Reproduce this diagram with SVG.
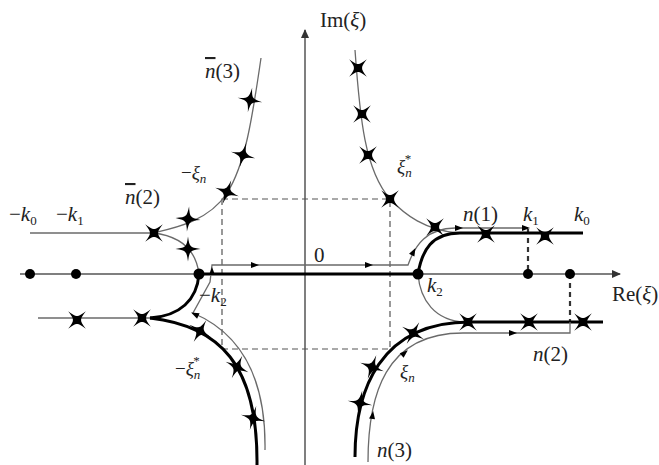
<svg xmlns="http://www.w3.org/2000/svg" width="659" height="465" viewBox="0 0 659 465">
<style>
.ax{stroke:#555;stroke-width:1.5;fill:none}
.thin{stroke:#6a6a6a;stroke-width:1.3;fill:none}
.thick{stroke:#000;stroke-width:3;fill:none}
.dash{stroke:#555;stroke-width:1.2;stroke-dasharray:6 4;fill:none}
.dash2{stroke:#333;stroke-width:2.2;stroke-dasharray:5 4;fill:none}
text{font-family:"Liberation Serif","Times New Roman",serif;font-size:21px;fill:#222}
.i{font-style:italic}
.sub{font-size:13px}
.sm{font-size:19px}
.ol{text-decoration:overline}
</style>
<defs>
<path id="star" d="M0,-12.5 Q1,-4 2.9,-2.9 Q4,-1 12.5,0 Q4,1 2.9,2.9 Q1,4 0,12.5 Q-1,4 -2.9,2.9 Q-4,1 -12.5,0 Q-4,-1 -2.9,-2.9 Q-1,-4 0,-12.5Z" fill="#000"/>
<path id="ah" d="M1,0 L-7,-3 L-7,3 Z" fill="#000"/>
<marker id="axarr" markerWidth="10" markerHeight="10" refX="8" refY="5" orient="auto" markerUnits="userSpaceOnUse"><path d="M0,1 L9,5 L0,9 Z" fill="#333"/></marker>
</defs>

<g id="axes">
<line class="ax" x1="20" y1="274" x2="620" y2="274" marker-end="url(#axarr)"/>
<line class="ax" x1="305" y1="465" x2="305" y2="30" marker-end="url(#axarr)"/>
</g>

<g id="dashed">
<rect class="dash" x="222" y="199" width="168" height="150"/>
<line class="dash2" x1="528" y1="229" x2="528" y2="274"/>
<line class="dash2" x1="570" y1="274" x2="570" y2="322"/>
</g>

<g id="connectors">
<path class="thin" d="M30,233 L153,233"/>
<path class="thin" d="M38,318 L155,318"/>
<path class="thin" d="M261,58 C252,120 245,165 227,193 S175,228 153,233"/>
<path class="thin" d="M153,233 C180,236 196,250 199,274"/>
<path class="thin" d="M355,50 C360,120 365,170 390,199 C405,215 425,230 458,233"/>
<path class="thin" d="M418,274 C420,300 435,321 465,322"/>
<path class="thick" d="M199,274 L418,274"/>
<path class="thick" d="M418,274 C422,250 432,233 460,233 L583,233"/>
<path class="thick" d="M199,274 C197,300 180,316 150,318"/>
<path class="thick" d="M150,318 C220,326 258,365 257,465"/>
<path class="thick" d="M355,457 C355,390 380,322 470,322 L603,322"/>
<path class="thin" d="M265,450 C266,385 245,335 193,313 L210,282 L212,265 L408,265 C415,245 427,228 455,228 L528,228"/>
<path class="thin" d="M368,462 C368,395 385,333 463,333 L570,333 L570,322"/>
</g>

<g id="arrows">
<use href="#ah" transform="translate(258,265)"/>
<use href="#ah" transform="translate(372,265)"/>
<use href="#ah" transform="translate(415,249) rotate(-62)"/>
<use href="#ah" transform="translate(462,228)"/>
<use href="#ah" transform="translate(529,228)"/>
<use href="#ah" transform="translate(212,268) rotate(-90)"/>
<use href="#ah" transform="translate(192,313) rotate(205)"/>
<use href="#ah" transform="translate(373,412) rotate(-82)"/>
<use href="#ah" transform="translate(407,351) rotate(-40)"/>
<use href="#ah" transform="translate(516,333)"/>
</g>

<g id="points">
<circle cx="30" cy="274" r="5"/>
<circle cx="76" cy="274" r="5"/>
<circle cx="199" cy="274" r="5.5"/>
<circle cx="418" cy="274" r="5.5"/>
<circle cx="528" cy="274" r="5"/>
<circle cx="570" cy="274" r="5"/>
</g>

<g id="stars">
<use href="#star" transform="translate(250,100) rotate(10)"/>
<use href="#star" transform="translate(243,155) rotate(15)"/>
<use href="#star" transform="translate(227,192) rotate(20)"/>
<use href="#star" transform="translate(188,219) rotate(5)"/>
<use href="#star" transform="translate(188,249)"/>
<use href="#star" transform="translate(154,233) rotate(45)"/>
<use href="#star" transform="translate(358,68) rotate(45)"/>
<use href="#star" transform="translate(362,114) rotate(45)"/>
<use href="#star" transform="translate(368,155) rotate(45)"/>
<use href="#star" transform="translate(390,199) rotate(45)"/>
<use href="#star" transform="translate(435,227) rotate(45)"/>
<use href="#star" transform="translate(486,234) rotate(45)"/>
<use href="#star" transform="translate(545,236) rotate(45)"/>
<use href="#star" transform="translate(77,320) rotate(45)"/>
<use href="#star" transform="translate(142,318) rotate(45)"/>
<use href="#star" transform="translate(200,331) rotate(30)"/>
<use href="#star" transform="translate(237,367) rotate(25)"/>
<use href="#star" transform="translate(253,418) rotate(15)"/>
<use href="#star" transform="translate(468,322) rotate(45)"/>
<use href="#star" transform="translate(529,322) rotate(45)"/>
<use href="#star" transform="translate(583,322) rotate(45)"/>
<use href="#star" transform="translate(413,333) rotate(30)"/>
<use href="#star" transform="translate(372,367) rotate(20)"/>
<use href="#star" transform="translate(360,403) rotate(10)"/>
</g>

<g id="labels" font-family="'Liberation Serif', 'Times New Roman', serif">
<text x="320" y="27">Im(<tspan class="i">ξ</tspan>)</text>
<text x="612" y="301">Re(<tspan class="i">ξ</tspan>)</text>
<text x="9" y="221">−<tspan class="i">k</tspan><tspan class="sub" dy="4">0</tspan></text>
<text x="56" y="221">−<tspan class="i">k</tspan><tspan class="sub" dy="4">1</tspan></text>
<text x="125" y="204"><tspan class="i ol">n</tspan>(2)</text>
<text x="205" y="78"><tspan class="i ol">n</tspan>(3)</text>
<text class="sm" x="181" y="179">−<tspan class="i">ξ</tspan><tspan class="sub i" dy="4">n</tspan></text>
<text class="sm" x="397" y="173"><tspan class="i">ξ</tspan><tspan class="sub i" dy="4">n</tspan><tspan class="sub" dx="-7" dy="-14">*</tspan></text>
<text x="463" y="221"><tspan class="i">n</tspan>(1)</text>
<text x="523" y="221"><tspan class="i">k</tspan><tspan class="sub" dy="4">1</tspan></text>
<text x="574" y="221"><tspan class="i">k</tspan><tspan class="sub" dy="4">0</tspan></text>
<text x="314" y="262">0</text>
<text x="427" y="292"><tspan class="i">k</tspan><tspan class="sub" dy="4">2</tspan></text>
<text x="199" y="302">−<tspan class="i">k</tspan><tspan class="sub" dy="4">2</tspan></text>
<text class="sm" x="175" y="375">−<tspan class="i">ξ</tspan><tspan class="sub i" dy="4">n</tspan><tspan class="sub" dx="-7" dy="-14">*</tspan></text>
<text class="sm" x="400" y="378"><tspan class="i">ξ</tspan><tspan class="sub i" dy="4">n</tspan></text>
<text x="533" y="361"><tspan class="i">n</tspan>(2)</text>
<text x="377" y="457"><tspan class="i">n</tspan>(3)</text>
</g>
</svg>
